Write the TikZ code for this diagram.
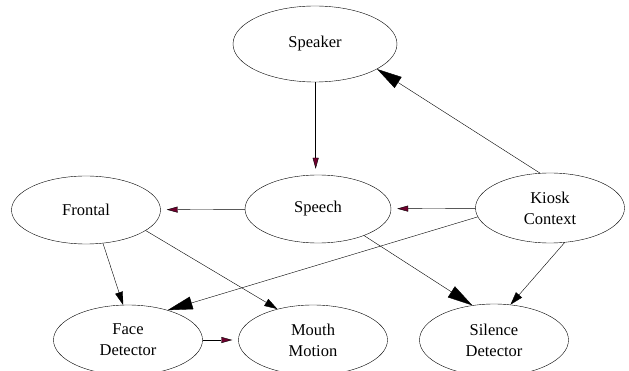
\documentclass[tikz,border=0pt]{standalone}
\usepackage{fontspec}
\setmainfont{Liberation Serif}
\usetikzlibrary{arrows.meta,shapes.geometric}
\definecolor{tipred}{RGB}{110,0,45}

\begin{document}
\begin{tikzpicture}[x=1pt,y=-1pt,
  state/.style={draw, ellipse, inner sep=0, minimum width=149pt, minimum height=68pt,
    align=center, font=\fontsize{16.5}{21}\selectfont},
  smalltip/.style={-{Triangle[length=11pt,width=6pt,fill=tipred]}, shorten >=6pt},
  midtip/.style={-{Triangle[length=13pt,width=8pt]}},
  bigtip/.style={-{Triangle[length=25pt,width=13pt]}}]
\useasboundingbox (0,0) rectangle (629,371);

\node[state, minimum width=164pt, minimum height=76pt] (speaker) at (315,44) {Speaker};
\node[state, minimum width=146pt] (speech) at (318,209) {Speech};
\node[state] (frontal) at (86,210) {Frontal};
\node[state, minimum height=70pt] (kiosk) at (550,208) {Kiosk\\Context};
\node[state, minimum height=70pt] (face) at (128,340) {Face\\Detector};
\node[state, minimum height=70pt] (mouth) at (313,340) {Mouth\\Motion};
\node[state, minimum height=72pt] (silence) at (494,340) {Silence\\Detector};

\draw[smalltip] (speaker.south -| speaker.-89) -- (speaker.-89 |- speech.north);
\draw[smalltip] (speech) -- (frontal);
\draw[smalltip] (kiosk) -- (speech);
\draw[smalltip] (face) -- (mouth);

\draw[bigtip] (kiosk.106) -- (speaker.-22);
\draw[bigtip] (kiosk.-173) -- (face.37);
\draw[bigtip] (speech.-30) -- (silence.122);

\draw[midtip] (kiosk.-67) -- (silence.65);
\draw[midtip] (frontal.-63) -- (face.98);
\draw[midtip] (frontal.-19) -- (mouth.139);

\end{tikzpicture}
\end{document}
